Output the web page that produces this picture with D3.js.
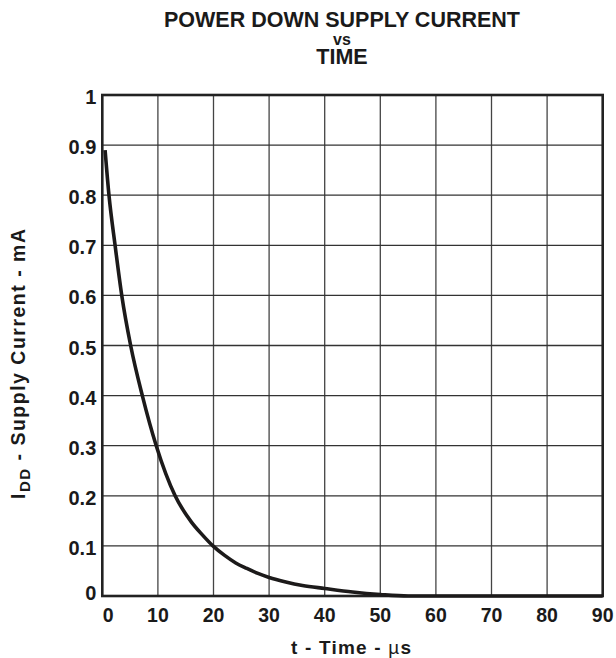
<!DOCTYPE html>
<html>
<head>
<meta charset="utf-8">
<script src="https://cdn.jsdelivr.net/npm/d3@7"></script>
<style>
  body { margin: 0; background: #fff; }
  svg text { font-family: "Liberation Sans", Arial, sans-serif; font-weight: bold; fill: #1a1a1a; }
</style>
</head>
<body>
<svg id="chart" width="616" height="658"></svg>
<script>
// time (us) and supply current (mA)
var timeUs = [0.5, 1.2, 2.3, 3.5, 5.1, 7.2, 9.7, 13.1, 16, 18, 19.9, 22, 24, 26, 28, 30, 33, 36, 40, 45, 50, 55, 60, 90];
var currentMa = [0.89, 0.8, 0.7, 0.6, 0.5, 0.4, 0.3, 0.2, 0.148, 0.122, 0.1, 0.081, 0.066, 0.055, 0.045, 0.037, 0.028, 0.021, 0.015, 0.008, 0.003, 0.0, 0, 0];
var xTicks = [0, 10, 20, 30, 40, 50, 60, 70, 80, 90];
var yTicks = [0, 0.1, 0.2, 0.3, 0.4, 0.5, 0.6, 0.7, 0.8, 0.9, 1];
var titleLines = ["POWER DOWN SUPPLY CURRENT", "vs", "TIME"];

(function() {
    var svg = d3.select("#chart"),
        plotLeft = 102.3, plotTop = 95, w = 500.4, h = 501;

    var x = d3.scaleLinear().domain([0, 90]).range([plotLeft, plotLeft + w]),
        y = d3.scaleLinear().domain([0, 1]).range([plotTop + h, plotTop]);

    // grid
    svg.append("g").selectAll("line").data(xTicks.slice(1, -1)).join("line")
        .attr("x1", d => x(d)).attr("x2", d => x(d))
        .attr("y1", plotTop).attr("y2", plotTop + h)
        .attr("stroke", "#444").attr("stroke-width", 1.3);
    svg.append("g").selectAll("line").data(yTicks.slice(1, -1)).join("line")
        .attr("y1", d => y(d)).attr("y2", d => y(d))
        .attr("x1", plotLeft).attr("x2", plotLeft + w)
        .attr("stroke", "#333").attr("stroke-width", 1.3);

    // frame
    svg.append("rect").attr("x", plotLeft).attr("y", plotTop).attr("width", w).attr("height", h)
        .attr("fill", "none").attr("stroke", "#222").attr("stroke-width", 2.6);

    // curve
    var line = d3.line().x((d, i) => x(timeUs[i])).y(d => y(d)).curve(d3.curveMonotoneX);
    svg.append("path").datum(currentMa).attr("d", line)
        .attr("fill", "none").attr("stroke", "#1c1a1a").attr("stroke-width", 3.6)
        .attr("stroke-linejoin", "round");

    // tick labels
    svg.append("g").selectAll("text").data(xTicks).join("text")
        .attr("x", d => x(d) + (d === 0 ? 6 : 0)).attr("y", 622)
        .attr("text-anchor", "middle").attr("font-size", 19.5)
        .text(d => d);
    svg.append("g").selectAll("text").data(yTicks).join("text")
        .attr("x", plotLeft - 6).attr("y", d => y(d) + (d === 0 ? 4 : 9))
        .attr("text-anchor", "end").attr("font-size", 20)
        .text(d => d);

    // title
    svg.append("g").selectAll("text").data(titleLines).join("text")
        .attr("x", 342).attr("y", (d, i) => [27, 45, 64][i])
        .attr("text-anchor", "middle").attr("font-size", (d, i) => i === 1 ? 16 : 21.5)
        .text(d => d);

    // x axis title
    var xt = svg.append("text").attr("x", 351).attr("y", 654)
        .attr("text-anchor", "middle").attr("font-size", 19)
        .attr("textLength", 120).attr("lengthAdjust", "spacing");
    xt.append("tspan").text("t - Time - ");
    xt.append("tspan").attr("font-weight", "normal").text("\u00b5");
    xt.append("tspan").text("s");

    // y axis title
    var yt = svg.append("text").attr("transform", "translate(25,364) rotate(-90)")
        .attr("text-anchor", "middle").attr("font-size", 19.5)
        .attr("textLength", 270).attr("lengthAdjust", "spacing");
    yt.append("tspan").text("I");
    yt.append("tspan").attr("font-size", 15).attr("dy", 5).text("DD");
    yt.append("tspan").attr("dy", -5).text(" - Supply Current - mA");
})();
</script>
</body>
</html>
